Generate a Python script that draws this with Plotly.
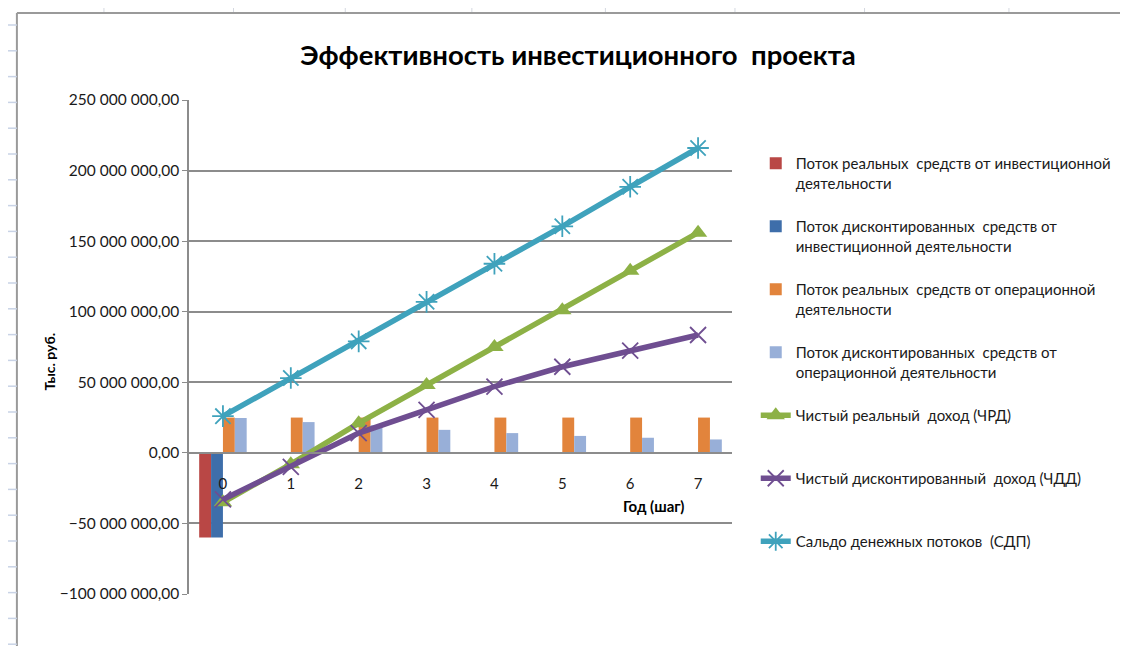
import plotly.graph_objects as go

# ---- data (values in rubles) ----
years = [0, 1, 2, 3, 4, 5, 6, 7]
year_labels = ["0", "1", "2", "3", "4", "5", "6", "7"]
M = 1_000_000
inv_real = [-60 * M, None, None, None, None, None, None, None]
inv_disc = [-60 * M, None, None, None, None, None, None, None]
op_real = [25 * M, 25 * M, 25 * M, 25 * M, 25 * M, 25 * M, 25 * M, 25 * M]
op_disc = [24.7 * M, 21.8 * M, 19.5 * M, 16.3 * M, 14.0 * M, 12.0 * M, 10.7 * M, 9.5 * M]
chrd = [-35 * M, -8 * M, 21 * M, 48 * M, 75 * M, 101 * M, 129 * M, 156 * M]
chdd = [-33 * M, -10 * M, 14 * M, 30.5 * M, 47 * M, 61 * M, 72.5 * M, 83.5 * M]
sdp = [26 * M, 53 * M, 79 * M, 107 * M, 134 * M, 160.5 * M, 188.5 * M, 216 * M]
y_ticks = [-100 * M, -50 * M, 0, 50 * M, 100 * M, 150 * M, 200 * M, 250 * M]

names = [
    "Поток реальных  средств от инвестиционной<br>деятельности",
    "Поток дисконтированных  средств от<br>инвестиционной деятельности",
    "Поток реальных  средств от операционной<br>деятельности",
    "Поток дисконтированных  средств от<br>операционной деятельности",
    "Чистый реальный  доход (ЧРД)<br> ",
    "Чистый дисконтированный  доход (ЧДД)<br> ",
    "Сальдо денежных потоков  (СДП)<br> ",
]

FONT = "Lato, Calibri, Arial, sans-serif"
OFF = 8  # page body margin
W, H = 1128 - OFF, 646 - OFF
L, R, T, B = 189, 738, 100, 594  # plot area in window pixels


def px(x):
    return (x - L) / (R - L)


def py(y):
    return (B - y) / (B - T)


fig = go.Figure()
bar_colors = ["#B94745", "#3E6EAA", "#E2843C", "#98AFD8"]
for i, (vals, col) in enumerate(zip([inv_real, inv_disc, op_real, op_disc], bar_colors)):
    fig.add_trace(go.Bar(x=years, y=vals, name=names[i], marker=dict(color=col, line=dict(width=0)),
                         legendgroup=f"g{i}"))

fig.add_trace(go.Scatter(x=years, y=chrd, mode="lines+markers", name=names[4], legendgroup="g4",
                         line=dict(color="#8DB146", width=5.5),
                         marker=dict(symbol="triangle-up", size=16, color="#8DB146")))
fig.add_trace(go.Scatter(x=years, y=chdd, mode="lines+markers", name=names[5], legendgroup="g5",
                         line=dict(color="#6F4E91", width=5.5),
                         marker=dict(symbol="x-thin-open", size=16, color="#6F4E91",
                                     line=dict(width=1.8, color="#6F4E91"))))
fig.add_trace(go.Scatter(x=years, y=sdp, mode="lines+markers", name=names[6], legendgroup="g6",
                         line=dict(color="#3FA2BC", width=5.5),
                         marker=dict(symbol="asterisk-open", size=18, color="#3FA2BC",
                                     line=dict(width=1.8, color="#3FA2BC"))))

shapes = []
# chart area border (Excel chart object)
shapes.append(dict(type="line", xref="paper", yref="paper", x0=px(15), x1=px(1140), y0=py(13), y1=py(13),
                   line=dict(color="#9A9A9A", width=2)))
shapes.append(dict(type="line", xref="paper", yref="paper", x0=px(15), x1=px(15), y0=py(13), y1=py(660),
                   line=dict(color="#9A9A9A", width=2)))
# spreadsheet grid fragments
for cx in [103, 234, 347, 475, 610, 741, 872, 1018]:
    shapes.append(dict(type="line", xref="paper", yref="paper", x0=px(cx), x1=px(cx), y0=py(0), y1=py(12),
                       line=dict(color="#D4D8E0", width=1)))
ry = 25.0
while ry < 646:
    shapes.append(dict(type="line", xref="paper", yref="paper", x0=px(6), x1=px(15), y0=py(ry), y1=py(ry),
                       line=dict(color="#C9D3E6", width=1.5)))
    ry += 25.8

fig.update_layout(
    width=W, height=H,
    margin=dict(l=L - OFF, r=W - (R - OFF), t=T - OFF, b=H - (B - OFF)),
    paper_bgcolor="white", plot_bgcolor="white",
    separators=", ",
    barmode="group", bargap=0.3, bargroupgap=0,
    font=dict(family=FONT, size=13, color="#1A1A1A"),
    title=dict(text="<b>Эффективность инвестиционного  проекта</b>", x=(578 - OFF) / W, xanchor="center",
               y=1 - (55 - OFF) / H, yanchor="middle", font=dict(size=27.5, color="black", family=FONT)),
    xaxis=dict(type="linear", range=[-0.5, 7.5], tickmode="array", tickvals=years, ticktext=year_labels,
               anchor="free", position=100 / 350, showline=True, linecolor="#8C8C8C", linewidth=1.5,
               showgrid=False, zeroline=False, ticks="outside", ticklen=17, tickcolor="rgba(0,0,0,0)",
               tickfont=dict(size=15, color="#1A1A1A")),
    yaxis=dict(range=[-100 * M, 250 * M], tickmode="array", tickvals=y_ticks,
               tickformat=",.2f", showline=True, linecolor="#8C8C8C", linewidth=1.5,
               showgrid=True, gridcolor="#8C8C8C", gridwidth=1.5, zeroline=False,
               ticks="outside", ticklen=5, tickcolor="#8C8C8C",
               tickfont=dict(size=15.5, color="#1A1A1A")),
    legend=dict(x=px(762), y=py(147), xanchor="left", yanchor="top", valign="top",
                font=dict(size=15, color="#1A1A1A"), tracegroupgap=21, itemwidth=30,
                bgcolor="rgba(0,0,0,0)"),
    shapes=shapes,
    annotations=[
        dict(text="<b>Тыс. руб.</b>", xref="paper", yref="paper", x=px(47), y=py(362), textangle=-90,
             showarrow=False, xanchor="center", yanchor="middle", font=dict(size=14, color="black")),
        dict(text="<b>Год (шаг)</b>", xref="paper", yref="paper", x=px(659), y=py(506), showarrow=False,
             xanchor="center", yanchor="middle", font=dict(size=15, color="black")),
    ],
)

fig.write_html("out.html")
